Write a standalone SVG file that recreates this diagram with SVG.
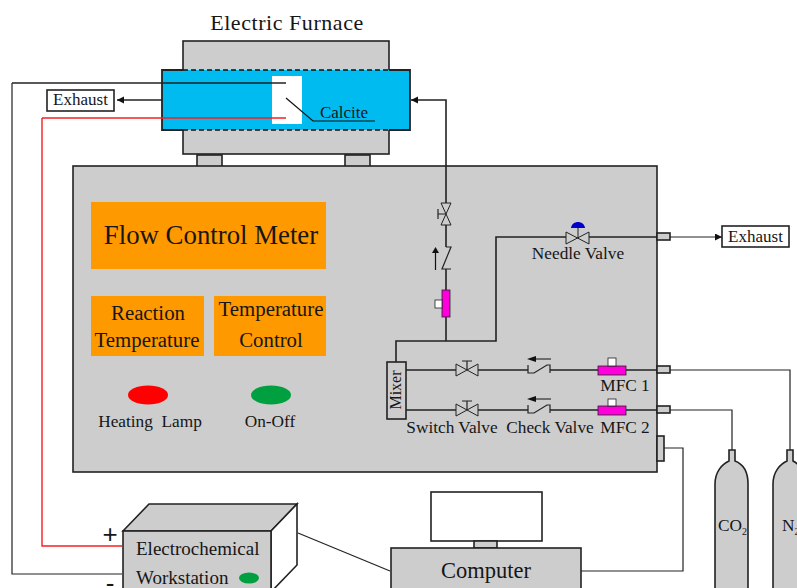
<svg xmlns="http://www.w3.org/2000/svg" width="797" height="588" viewBox="0 0 797 588">
<style>
text{font-family:"Liberation Serif","Times New Roman",serif;fill:#161616}
.b{stroke:#222;stroke-width:1.6;fill:#cdcdcd}
.w{stroke:#222;stroke-width:1.6;fill:#fff}
.l{stroke:#222;stroke-width:1.2;fill:none}
.t{stroke:#222;stroke-width:1.6;fill:none}
.v{stroke:#222;stroke-width:1;fill:#cdcdcd}
.o{fill:#ff9900}
.m{fill:#ff00dd;stroke:#222;stroke-width:.8}
.f{font-size:17.3px}
.h{font-size:20.800px}
</style>
<defs>
<marker id="a" markerWidth="8" markerHeight="8" refX="7" refY="3.500" orient="auto" markerUnits="userSpaceOnUse"><path d="M0 0L7 3.500L0 7z" fill="#111"/></marker>
<g id="sv"><path class="v" d="M-11 -6L11 6V-6L-11 6z"/><path class="l" d="M0 0V-9M-5 -9H5"/></g>
<path id="cv" class="l" d="M-11 -5V3H-5L8 -5H11V3"/>
</defs>
<g id="furnace">
<rect class="b" x="183" y="41" width="206" height="113"/>
<rect class="b" x="197" y="155" width="25" height="12"/>
<rect class="b" x="345" y="155" width="25" height="12"/>
<rect x="162" y="70" width="248" height="60" fill="#00bbf0"/>
<path d="M183 70H162V130H183M389 70H410V130H389" stroke="#222" stroke-width="1.800" fill="none"/>
<path d="M183 70H389M183 130H389" stroke="#111" stroke-width="1.600" stroke-dasharray="5 3" fill="none"/>
<rect x="272" y="76" width="30" height="48" fill="#fff"/>
<text x="287" y="30" font-size="22" text-anchor="middle" letter-spacing=".55">Electric Furnace</text>
<path d="M286 98L313 121H375" stroke="#111" stroke-width="1.200" fill="none"/>
<text x="344" y="118" font-size="17" text-anchor="middle">Calcite</text>
</g>
<g id="control-panel">
<rect class="b" x="73" y="166" width="584" height="306"/>
<rect class="o" x="91" y="202" width="235" height="67"/>
<text x="211" y="244" font-size="26.800" text-anchor="middle">Flow Control Meter</text>
<rect class="o" x="91" y="296" width="113" height="60"/>
<text x="148" y="320" class="h" text-anchor="middle">Reaction</text>
<text x="147" y="347" class="h" text-anchor="middle">Temperature</text>
<rect class="o" x="214" y="296" width="112" height="60"/>
<text x="271" y="316" class="h" text-anchor="middle">Temperature</text>
<text x="271" y="347" class="h" text-anchor="middle">Control</text>
<ellipse cx="148" cy="395" rx="20" ry="9.500" fill="#ff0000"/>
<ellipse cx="271" cy="395" rx="20" ry="9.500" fill="#00a040"/>
<text x="150" y="427" class="f" text-anchor="middle" xml:space="preserve">Heating  Lamp</text>
<text x="270" y="427" class="f" text-anchor="middle">On-Off</text>
</g>
<g id="connectors">
<path class="t" d="M12 83H286"/>
<path class="l" d="M12 83V574H122"/>
<path d="M42 118H286M42 118V546H122" stroke="#f52020" stroke-width="1.400" fill="none"/>
<path class="t" d="M162 100H117" marker-end="url(#a)"/>
<path class="t" d="M446 203V100H411" marker-end="url(#a)"/>
<path class="t" d="M446 225V247M446 269V290M446 317V341M396 362V341H496V237H566M589 237H657"/>
<path class="l" d="M670 237H722" marker-end="url(#a)"/>
<path class="t" d="M406 370H456M478 370H528M550 370H598M626 370H657M406 410H456M478 410H528M550 410H598M626 410H657"/>
<path class="l" d="M670 370H790V450M670 410H732V450M664 448H683V571H581M298 533L390 571"/>
</g>
<g id="mixer">
<rect class="b" x="387" y="362" width="19" height="57"/>
<text transform="translate(401 390) rotate(-90)" font-size="16" text-anchor="middle">Mixer</text>
</g>
<g id="vertical-valve">
<path class="v" d="M441 203H451L441 225H451z"/>
<path class="l" d="M438 209V219M438 214H446"/>
<path class="l" d="M446 247H451L442 269H451"/>
<path d="M435.500 270V251" stroke="#111" stroke-width="1.200"/><path d="M432 253L435.500 247L439 253z" fill="#111"/>
<rect class="m" x="442" y="290" width="8" height="27"/>
<rect x="435" y="300" width="7" height="8" fill="#fff" stroke="#222" stroke-width=".8"/>
</g>
<g id="needle-valve">
<path class="v" d="M566 232L589 244V232L566 244z"/>
<path d="M578 238V226" stroke="#222" stroke-width="1"/>
<path d="M571 228C572 220 584 220 585 228z" fill="#0000cc"/>
<text x="578" y="259" class="f" text-anchor="middle">Needle Valve</text>
</g>
<g id="mfc-1">
<use href="#sv" x="467" y="370"/>
<use href="#cv" x="539" y="370"/>
<path d="M551 359H534" stroke="#111" stroke-width="1" fill="none"/><path d="M527 359L536 356V362z" fill="#111"/>
<rect class="m" x="598" y="366" width="28" height="9"/>
<rect x="608" y="358" width="8" height="8" fill="#fff" stroke="#222" stroke-width=".8"/>
<text x="625" y="391" class="f" text-anchor="middle">MFC 1</text>
<rect class="b" x="657" y="366" width="13" height="7" stroke-width="1"/>
</g>
<g id="mfc-2">
<use href="#sv" x="467" y="410"/>
<use href="#cv" x="539" y="410"/>
<path d="M551 399H534" stroke="#111" stroke-width="1" fill="none"/><path d="M527 399L536 396V402z" fill="#111"/>
<rect class="m" x="598" y="406" width="28" height="9"/>
<rect x="608" y="399" width="8" height="7" fill="#fff" stroke="#222" stroke-width=".8"/>
<text x="625" y="433" class="f" text-anchor="middle">MFC 2</text>
<rect class="b" x="657" y="406" width="13" height="7" stroke-width="1"/>
<text x="452" y="433" class="f" text-anchor="middle">Switch Valve</text>
<text x="550" y="433" class="f" text-anchor="middle">Check Valve</text>
</g>
<g id="ports">
<rect class="b" x="657" y="233" width="13" height="7" stroke-width="1"/>
<rect class="b" x="657" y="436" width="7" height="25" stroke-width="1"/>
</g>
<g id="exhaust-left"><rect class="w" x="47" y="90" width="67" height="21"/><text x="80.500" y="105" font-size="17" text-anchor="middle">Exhaust</text></g>
<g id="exhaust-right"><rect class="w" x="722" y="226" width="67" height="21"/><text x="755.500" y="242" font-size="17" text-anchor="middle">Exhaust</text></g>
<g id="co2">
<path class="b" d="M715 588V484C715 472 722 464 729 461V450H735V461C743 464 748 472 748 484V588"/>
<text x="718" y="531" class="f">CO<tspan font-size="10" dy="4">2</tspan></text>
</g>
<g id="n2">
<path class="b" d="M773 588V484C773 472 780 464 787 461V450H793V461C797 463 799 465 800 468V588"/>
<text x="782" y="531" class="f">N<tspan font-size="10" dy="4">2</tspan></text>
</g>
<g id="workstation">
<path class="b" d="M123 531L149 504H297L271 531z"/>
<path class="w" d="M271 531L297 504V565L271 592z"/>
<rect class="b" x="123" y="531" width="148" height="62"/>
<text x="110" y="543" font-size="26" text-anchor="middle" font-family="Liberation Sans" style="font-family:'Liberation Sans',sans-serif">+</text>
<text x="110" y="592" font-size="26" text-anchor="middle" style="font-family:'Liberation Sans',sans-serif">-</text>
<text x="136" y="555" font-size="19">Electrochemical</text>
<text x="136" y="584" font-size="19">Workstation</text>
<ellipse cx="249" cy="578" rx="10" ry="5.500" fill="#00a040"/>
</g>
<g id="computer">
<rect class="w" x="431" y="492" width="111" height="49"/>
<rect class="b" x="474" y="541" width="23" height="7"/>
<rect class="b" x="391" y="548" width="190" height="50"/>
<text x="486" y="578" font-size="22.500" text-anchor="middle">Computer</text>
</g>
</svg>
